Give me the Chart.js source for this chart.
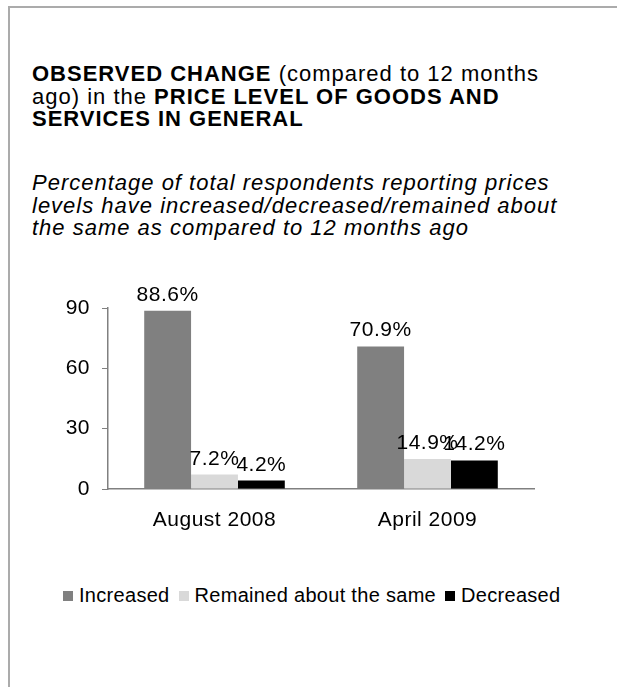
<!DOCTYPE html>
<html>
<head>
<meta charset="utf-8">
<script src="https://cdn.jsdelivr.net/npm/chart.js@4"></script>
<style>
  html, body { margin: 0; padding: 0; background: #fff; }
  body { width: 617px; height: 687px; position: relative; overflow: hidden; font-family: "Liberation Sans", Arial, sans-serif; }
  .frame { position: absolute; left: 8px; top: 6px; width: 700px; height: 800px; border-left: 2px solid #ababab; border-top: 2px solid #ababab; }
  .title { position: absolute; left: 32px; top: 63px; font-size: 22px; line-height: 22.5px; letter-spacing: 1px; color: #000; white-space: nowrap; }
  .sub { position: absolute; left: 32px; top: 172px; font-size: 22px; line-height: 22.5px; letter-spacing: 1px; font-style: italic; white-space: nowrap; }
  #wrap { position: absolute; left: 0; top: 260px; width: 617px; height: 289px; }
  #legend { position: absolute; top: 583px; left: 63px; font-size: 20px; line-height: 24px; letter-spacing: 0.3px; white-space: nowrap; }
  #legend span.item { margin-right: 9px; }
  #legend i { display: inline-block; width: 10px; height: 10px; margin-right: 6px; vertical-align: 1px; }
</style>
</head>
<body>
<div class="frame"></div>
<div class="title"><b>OBSERVED CHANGE</b> (compared to 12 months<br>ago) in the <b>PRICE LEVEL OF GOODS AND<br>SERVICES IN GENERAL</b></div>
<div class="sub">Percentage of total respondents reporting prices<br>levels have increased/decreased/remained about<br>the same as compared to 12 months ago</div>
<div id="wrap"><canvas id="chart"></canvas></div>
<div id="legend"></div>
<script>
const categories = ['August 2008', 'April 2009'];
const increased = [88.6, 70.9];
const remained = [7.2, 14.9];
const decreased = [4.2, 14.2];
const yTicks = [0, 30, 60, 90];

const series = [
  { label: 'Increased', data: increased, color: '#808080' },
  { label: 'Remained about the same', data: remained, color: '#d9d9d9' },
  { label: 'Decreased', data: decreased, color: '#000000' },
];

const FONT = '"Liberation Sans", Arial, sans-serif';

// slightly wider text, like the original rendering
const spacing = {
  id: 'spacing',
  beforeLayout(chart) { chart.ctx.letterSpacing = '0.5px'; },
  beforeDraw(chart) { chart.ctx.letterSpacing = '0.5px'; },
};

const valueLabels = {
  id: 'valueLabels',
  afterDatasetsDraw(chart) {
    const ctx = chart.ctx;
    ctx.save();
    ctx.font = '21px ' + FONT;
    ctx.fillStyle = '#000';
    ctx.textAlign = 'center';
    ctx.textBaseline = 'alphabetic';
    chart.data.datasets.forEach((ds, i) => {
      chart.getDatasetMeta(i).data.forEach((bar, j) => {
        ctx.fillText(ds.data[j].toFixed(1) + '%', bar.x, bar.y - 10);
      });
    });
    ctx.restore();
  }
};

new Chart(document.getElementById('chart'), {
  type: 'bar',
  data: {
    labels: categories,
    datasets: series.map(s => ({ label: s.label, data: s.data, backgroundColor: s.color, borderWidth: 0 })),
  },
  options: {
    responsive: true,
    maintainAspectRatio: false,
    animation: false,
    layout: { padding: { top: 48, right: 83, left: 0, bottom: 0 } },
    datasets: { bar: { categoryPercentage: 0.66, barPercentage: 1 } },
    plugins: { legend: { display: false }, tooltip: { enabled: false } },
    scales: {
      x: {
        grid: { display: false },
        border: { color: '#808080', width: 1.5 },
        ticks: { color: '#000', padding: 11, font: { size: 21, family: FONT } },
        afterFit(scale) { scale.height = 60; },
      },
      y: {
        min: 0, max: 90,
        afterBuildTicks(scale) { scale.ticks = yTicks.map(v => ({ value: v })); },
        grid: { drawOnChartArea: false, drawTicks: true, tickLength: 6, color: '#808080' },
        border: { color: '#808080', width: 1.5 },
        ticks: { color: '#000', padding: 12, font: { size: 21, family: FONT } },
        afterFit(scale) { scale.width = 108; },
      },
    },
  },
  plugins: [spacing, valueLabels],
});

document.getElementById('legend').innerHTML = series.map(s =>
  `<span class="item"><i style="background:${s.color}"></i>${s.label}</span>`).join('');
</script>
</body>
</html>
